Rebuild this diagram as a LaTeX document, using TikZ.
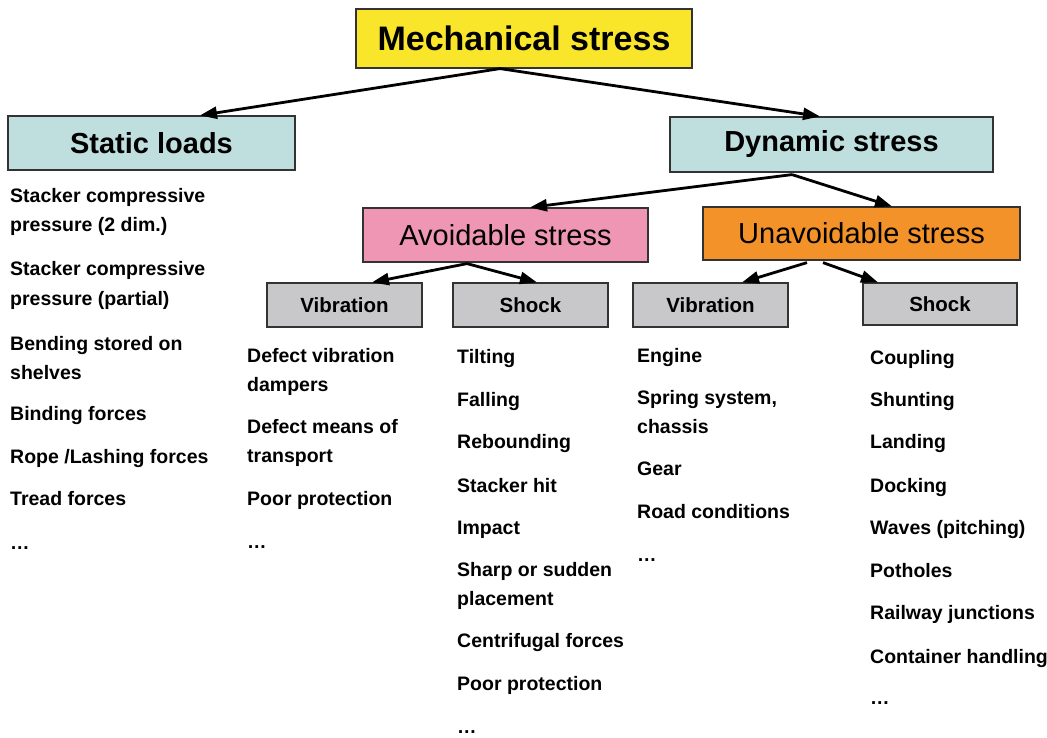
\documentclass[tikz,border=0pt]{standalone}
\usepackage{fontspec}
\setmainfont{Liberation Sans}
\usetikzlibrary{arrows.meta,calc}
\definecolor{cyel}{HTML}{F9E52A}
\definecolor{cteal}{HTML}{BFDFDF}
\definecolor{cpink}{HTML}{EE96B4}
\definecolor{corange}{HTML}{F4922A}
\definecolor{cgrey}{HTML}{C8C8CA}
\definecolor{cborder}{HTML}{333333}
\tikzset{
  box/.style={draw=cborder, line width=1.2pt, inner sep=0pt, align=center},
  item/.style={anchor=base west, inner sep=0pt, align=left,
    font=\fontsize{19.5}{29}\selectfont\bfseries},
  conn/.style={line width=2.8pt, -{Triangle[length=17pt,width=12pt]}},
}
\begin{document}
\begin{tikzpicture}[x=1pt,y=-1pt]
\useasboundingbox (0,0) rectangle (1047,738);
% boxes
\node[box, fill=cyel, minimum width=336pt, minimum height=59pt,
  font=\fontsize{34}{40}\selectfont\bfseries] (mech) at (524,38.5) {Mechanical stress};
\node[box, fill=cteal, minimum width=287pt, minimum height=54pt,
  font=\fontsize{29}{34}\selectfont\bfseries] (static) at (151.5,143) {Static loads};
\node[box, fill=cteal, minimum width=323pt, minimum height=55pt,
  font=\fontsize{29}{34}\selectfont\bfseries] (dyn) at (831.5,144.5) {Dynamic stress};
\node[box, fill=cpink, minimum width=285pt, minimum height=54pt,
  font=\fontsize{29}{34}\selectfont] (avoid) at (505.5,235) {Avoidable stress};
\node[box, fill=corange, minimum width=317pt, minimum height=53pt,
  font=\fontsize{29}{34}\selectfont] (unavoid) at (861.5,233.5) {Unavoidable stress};
\node[box, fill=cgrey, minimum width=155pt, minimum height=44pt,
  font=\fontsize{20.5}{24}\selectfont\bfseries] (vibA) at (344.5,305) {Vibration};
\node[box, fill=cgrey, minimum width=155pt, minimum height=44pt,
  font=\fontsize{20.5}{24}\selectfont\bfseries] (shockA) at (530.5,305) {Shock};
\node[box, fill=cgrey, minimum width=155pt, minimum height=44pt,
  font=\fontsize{20.5}{24}\selectfont\bfseries] (vibU) at (710.5,305) {Vibration};
\node[box, fill=cgrey, minimum width=154pt, minimum height=42pt,
  font=\fontsize{20.5}{24}\selectfont\bfseries] (shockU) at (940,304) {Shock};
% connectors
\draw[conn] ([xshift=-24pt]mech.south) -- ([xshift=48.5pt]static.north);
\draw[conn] ([xshift=-24pt]mech.south) -- ([xshift=-11.5pt]dyn.north);
\draw[conn] ([xshift=-39.5pt,yshift=-2pt]dyn.south) -- ([xshift=24.5pt]avoid.north);
\draw[conn] ([xshift=-39.5pt,yshift=-2pt]dyn.south) -- ([xshift=30.5pt]unavoid.north);
\draw[conn] ([xshift=-38.5pt,yshift=-1pt]avoid.south) -- ([xshift=27.5pt]vibA.north);
\draw[conn] ([xshift=-38.5pt,yshift=-1pt]avoid.south) -- ([xshift=6.5pt]shockA.north);
\draw[conn] ([xshift=-54.5pt,yshift=-2pt]unavoid.south) -- ([xshift=31.5pt]vibU.north);
\draw[conn] ([xshift=-38.5pt,yshift=-2pt]unavoid.south) -- ([xshift=-62pt]shockU.north);
% column 1: static loads (two-line items are placed by their last baseline)
\node[item] (s1) at (10,232) {Stacker compressive\\pressure (2 dim.)};
\node[item] (s2) at (10,305) {Stacker compressive\\pressure (partial)};
\node[item] (s3) at (10,379) {Bending stored on\\shelves};
\node[item] (s4) at (10,420) {Binding forces};
\node[item] (s5) at (10,463) {Rope /Lashing forces};
\node[item] (s6) at (10,505) {Tread forces};
\node[item] (s7) at (10,549) {\dots};
% column 2: avoidable vibration
\node[item] (a1) at (247,391) {Defect vibration\\dampers};
\node[item] (a2) at (247,462) {Defect means of\\transport};
\node[item] (a3) at (247,505) {Poor protection};
\node[item] (a4) at (247,548) {\dots};
% column 3: avoidable shock
\node[item] (b1) at (457,363) {Tilting};
\node[item] (b2) at (457,406) {Falling};
\node[item] (b3) at (457,448) {Rebounding};
\node[item] (b4) at (457,492) {Stacker hit};
\node[item] (b5) at (457,534) {Impact};
\node[item] (b6) at (457,605) {Sharp or sudden\\placement};
\node[item] (b7) at (457,647) {Centrifugal forces};
\node[item] (b8) at (457,690) {Poor protection};
\node[item] (b9) at (457,733) {\dots};
% column 4: unavoidable vibration
\node[item] (c1) at (637,362) {Engine};
\node[item] (c2) at (637,433) {Spring system,\\chassis};
\node[item] (c3) at (637,475) {Gear};
\node[item] (c4) at (637,518) {Road conditions};
\node[item] (c5) at (637,561) {\dots};
% column 5: unavoidable shock
\node[item] (d1) at (870,364) {Coupling};
\node[item] (d2) at (870,406) {Shunting};
\node[item] (d3) at (870,448) {Landing};
\node[item] (d4) at (870,492) {Docking};
\node[item] (d5) at (870,534) {Waves (pitching)};
\node[item] (d6) at (870,577) {Potholes};
\node[item] (d7) at (870,619) {Railway junctions};
\node[item] (d8) at (870,663) {Container handling};
\node[item] (d9) at (870,704) {\dots};
\end{tikzpicture}
\end{document}
